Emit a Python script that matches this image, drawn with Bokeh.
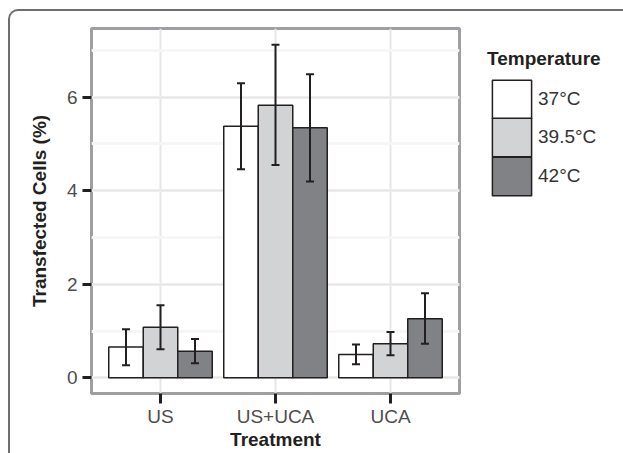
from bokeh.plotting import figure
from bokeh.layouts import row
from bokeh.models import (ColumnDataSource, Whisker, TeeHead, FixedTicker, SingleIntervalTicker,
                          Range1d, Legend, LegendItem)
from bokeh.embed import file_html
from bokeh.resources import INLINE

# ---- data ----
treatments = ["US", "US+UCA", "UCA"]
temps = ["37°C", "39.5°C", "42°C"]
mean_37 = [0.66, 5.38, 0.50]
mean_395 = [1.08, 5.83, 0.73]
mean_42 = [0.57, 5.35, 1.26]
lower_37 = [0.27, 4.46, 0.29]
upper_37 = [1.04, 6.30, 0.71]
lower_395 = [0.61, 4.55, 0.48]
upper_395 = [1.55, 7.12, 0.98]
lower_42 = [0.31, 4.20, 0.73]
upper_42 = [0.83, 6.49, 1.81]

colors = ["#ffffff", "#d1d3d4", "#808285"]
offsets = [-0.3, 0.0, 0.3]
series = [
    (temps[0], mean_37, lower_37, upper_37),
    (temps[1], mean_395, lower_395, upper_395),
    (temps[2], mean_42, lower_42, upper_42),
]

p = figure(width=451, height=442, output_backend="svg", toolbar_location=None,
           x_range=Range1d(0.4, 3.6), y_range=Range1d(-0.336, 7.47),
           min_border_left=81, min_border_right=2, min_border_top=17, min_border_bottom=60)

p.background_fill_color = "#ffffff"
p.border_fill_alpha = 0
p.outline_line_color = "#9d9fa2"
p.outline_line_width = 3

# grids
p.xgrid.grid_line_color = "#e6e6e6"
p.xgrid.grid_line_width = 2
p.ygrid.grid_line_color = "#e6e6e6"
p.ygrid.grid_line_width = 2
p.ygrid.minor_grid_line_color = "#f6f6f6"
p.ygrid.minor_grid_line_width = 3

# axes
p.xaxis.ticker = FixedTicker(ticks=[1, 2, 3])
p.xaxis.major_label_overrides = {i + 1: t for i, t in enumerate(treatments)}
p.yaxis.ticker = SingleIntervalTicker(interval=2, num_minor_ticks=2)
p.xaxis.axis_label = "Treatment"
p.yaxis.axis_label = "Transfected Cells (%)"
for ax in (p.xaxis, p.yaxis):
    ax.axis_line_color = None
    ax.major_tick_in = 0
    ax.minor_tick_in = 0
    ax.minor_tick_out = 0
    ax.major_tick_line_color = "#231f20"
    ax.major_tick_line_width = 3
    ax.major_label_text_font = "Liberation Sans"
    ax.major_label_text_font_size = "19px"
    ax.major_label_text_color = "#4d4d4d"
    ax.axis_label_text_font = "Liberation Sans"
    ax.axis_label_text_font_size = "19px"
    ax.axis_label_text_font_style = "bold"
    ax.axis_label_text_color = "#231f20"
p.xaxis.major_tick_out = 10
p.yaxis.major_tick_out = 9
p.xaxis.major_label_standoff = 2
p.yaxis.major_label_standoff = 5
p.xaxis.axis_label_standoff = -1
p.yaxis.axis_label_standoff = 14

for (name, means, lo, hi), color, off in zip(series, colors, offsets):
    xs = [i + 1 + off for i in range(len(treatments))]
    src = ColumnDataSource(dict(x=xs, top=means, lower=lo, upper=hi))
    p.vbar(x="x", top="top", width=0.3, bottom=0, source=src,
           fill_color=color, line_color="#231f20", line_width=1.5)
    w = Whisker(base="x", lower="lower", upper="upper", source=src, level="annotation",
                line_color="#231f20", line_width=2,
                upper_head=TeeHead(size=8, line_color="#231f20", line_width=2),
                lower_head=TeeHead(size=8, line_color="#231f20", line_width=2))
    p.add_layout(w)

# ---- legend panel ----
pl = figure(width=162, height=442, output_backend="svg", toolbar_location=None,
            x_range=Range1d(0.4, 3.6), y_range=Range1d(-0.336, 7.47),
            x_axis_location=None, y_axis_location=None, min_border=0)
pl.grid.visible = False
pl.outline_line_color = None
pl.background_fill_alpha = 0
pl.border_fill_alpha = 0

legend_y = [270.0, 231.6, 193.2]
for k, ((name, means, lo, hi), color) in enumerate(zip(series, colors)):
    r = pl.vbar(x=[1 + offsets[k]], top=[means[0]], width=0.3, fill_color=color,
                line_color="#231f20", line_width=1.5, visible=False)
    kw = {}
    if k == 0:
        kw = dict(title="Temperature", title_text_font="Liberation Sans",
                  title_text_font_size="19px", title_text_font_style="bold",
                  title_text_color="#231f20", title_standoff=5)
    lg = Legend(items=[LegendItem(label=name, renderers=[r])], location=(26, legend_y[k]),
                label_text_font="Liberation Sans", label_text_font_size="19px",
                label_text_color="#333333", label_standoff=2,
                glyph_width=49, glyph_height=48, spacing=0,
                padding=0, margin=0, border_line_color=None,
                background_fill_alpha=0, inactive_fill_alpha=0, **kw)
    pl.add_layout(lg, "center")

layout = row(p, pl, styles={"margin-left": "8px", "margin-top": "9px",
                            "border-top": "2px solid #6d6e71",
                            "border-left": "2px solid #6d6e71",
                            "border-top-left-radius": "10px"})

open("out.html", "w").write(file_html(layout, INLINE))
